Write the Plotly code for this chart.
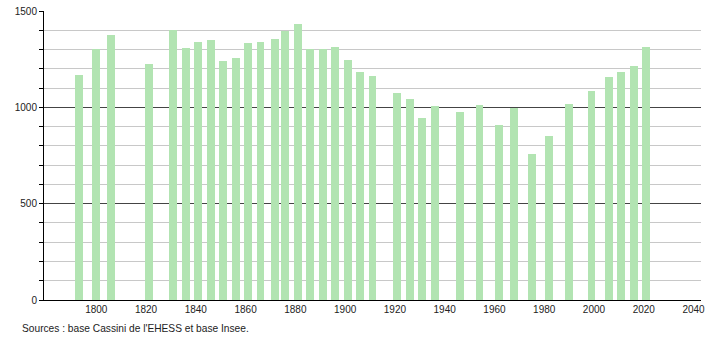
import plotly.graph_objects as go

years = [1793, 1800, 1806, 1821, 1831, 1836, 1841, 1846, 1851, 1856, 1861, 1866,
         1872, 1876, 1881, 1886, 1891, 1896, 1901, 1906, 1911, 1921, 1926, 1931,
         1936, 1946, 1954, 1962, 1968, 1975, 1982, 1990, 1999, 2006, 2011, 2016, 2021]
population = [1169, 1305, 1376, 1226, 1400, 1307, 1340, 1350, 1243, 1257, 1334, 1340,
              1355, 1396, 1431, 1302, 1302, 1314, 1245, 1184, 1162, 1076, 1043, 946,
              1007, 977, 1012, 910, 996, 759, 852, 1017, 1086, 1157, 1184, 1214, 1312]
x_ticks = [1800, 1820, 1840, 1860, 1880, 1900, 1920, 1940, 1960, 1980, 2000, 2020, 2040]
y_ticks = [0, 500, 1000, 1500]
source_text = "Sources : base Cassini de l'EHESS et base Insee."

fig = go.Figure()
fig.add_trace(go.Bar(
    x=years, y=population, width=3.2,
    marker=dict(color="rgb(178,228,178)", line=dict(width=0)),
    hoverinfo="x+y",
))

font = dict(family="Liberation Sans, Arial, sans-serif", size=10, color="#222")
fig.update_layout(
    width=710, height=340,
    margin=dict(l=44, r=9, t=11, b=40, autoexpand=False),
    paper_bgcolor="white", plot_bgcolor="white",
    showlegend=False, font=font, bargap=0,
    xaxis=dict(range=[1779, 2043], tickvals=x_ticks, ticks="", showgrid=False,
               showline=True, linecolor="black", linewidth=1, zeroline=False,
               tickfont=font, automargin=False),
    yaxis=dict(range=[0, 1500], tickvals=y_ticks, ticks="outside", ticklen=4,
               tickcolor="black", showline=True, linecolor="black", linewidth=1,
               showgrid=True, gridcolor="#444", gridwidth=1, zeroline=False,
               tickfont=font, automargin=False,
               minor=dict(dtick=100, showgrid=True, gridcolor="#c8c8c8", gridwidth=1,
                          ticks="outside", ticklen=4, tickcolor="black")),
    annotations=[dict(text=source_text, xref="paper", yref="paper",
                      x=-0.0365, y=-0.097, xanchor="left", yanchor="middle",
                      showarrow=False, font=dict(family="Liberation Sans, Arial, sans-serif",
                                                 size=10.2, color="#222"))],
)
fig.write_html("out.html")
